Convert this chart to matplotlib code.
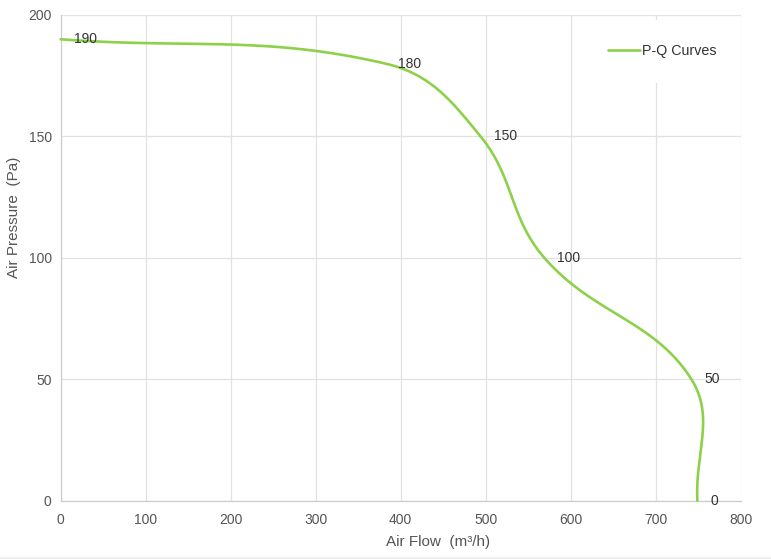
import numpy as np
import matplotlib
matplotlib.use("Agg")
import matplotlib.pyplot as plt
from matplotlib.patches import Rectangle

# ---- data ----
flow = [0, 382, 494, 569, 742, 749]          # Air Flow (m3/h)
pressure = [190, 180, 150, 100, 50, 0]       # Air Pressure (Pa)
point_labels = ["190", "180", "150", "100", "50", "0"]
x_ticks = [0, 100, 200, 300, 400, 500, 600, 700, 800]
y_ticks = [0, 50, 100, 150, 200]
series_name = "P-Q Curves"

LINE_COLOR = "#8dd14b"
GRID_COLOR = "#e2e2e2"
TICK_COLOR = "#555555"
TEXT_COLOR = "#333333"

plt.rcParams['font.family'] = ['Liberation Sans', 'DejaVu Sans']

W, H, DPI = 771, 559, 100
fig = plt.figure(figsize=(W / DPI, H / DPI), dpi=DPI)
fig.patch.set_facecolor("white")

L, R, T, B = 60.7, 740.7, 15.0, 500.7
ax = fig.add_axes([L / W, (H - B) / H, (R - L) / W, (B - T) / H])
ax.set_xlim(0, 800)
ax.set_ylim(0, 200)
ax.set_xticks(x_ticks)
ax.set_yticks(y_ticks)
ax.grid(True, color=GRID_COLOR, linewidth=0.9)
ax.set_axisbelow(True)
for s in ["top", "right"]:
    ax.spines[s].set_visible(False)
for s in ["left", "bottom"]:
    ax.spines[s].set_color("#cccccc")
    ax.spines[s].set_linewidth(0.9)
ax.tick_params(axis="both", length=0, labelsize=10, colors=TICK_COLOR)
ax.tick_params(axis="x", pad=9)
ax.tick_params(axis="y", pad=6.5)

# ---- smooth curve (Chart.js-style spline, tension 0.4) in display space ----
tension = 0.4
pts = ax.transData.transform(np.column_stack([flow, pressure]))
n = len(pts)
cps = []
for i in range(n):
    prev = pts[i - 1] if i > 0 else pts[i]
    cur = pts[i]
    nxt = pts[i + 1] if i < n - 1 else pts[i]
    d01 = np.hypot(*(cur - prev))
    d12 = np.hypot(*(nxt - cur))
    tot = d01 + d12
    s01 = d01 / tot if tot else 0
    s12 = d12 / tot if tot else 0
    cps.append((cur - tension * s01 * (nxt - prev), cur + tension * s12 * (nxt - prev)))
curve = []
tt = np.linspace(0, 1, 120)[:, None]
for i in range(n - 1):
    p0, p1, p2, p3 = pts[i], cps[i][1], cps[i + 1][0], pts[i + 1]
    seg = ((1 - tt) ** 3) * p0 + 3 * ((1 - tt) ** 2) * tt * p1 + 3 * (1 - tt) * tt ** 2 * p2 + tt ** 3 * p3
    curve.append(seg if i == 0 else seg[1:])
curve = ax.transData.inverted().transform(np.vstack(curve))
ax.plot(curve[:, 0], curve[:, 1], color=LINE_COLOR, linewidth=1.9,
        solid_capstyle="round", label=series_name, zorder=3, clip_on=False)

for x, y, lab in zip(flow, pressure, point_labels):
    ax.annotate(lab, (x, y), xytext=(13, 0), textcoords="offset pixels",
                ha="left", va="center", fontsize=10, color=TEXT_COLOR, zorder=4,
                annotation_clip=False)

# ---- legend with white background block ----
ax.add_patch(Rectangle(((600 - L) / (R - L), (B - 83) / (B - T)),
                       (735 - 600) / (R - L), (83 - 20) / (B - T),
                       transform=ax.transAxes, facecolor="white", edgecolor="none", zorder=2))
leg = ax.legend(loc="center left", bbox_to_anchor=((608.3 - L) / (R - L), (B - 51) / (B - T)),
                frameon=False, borderpad=0, borderaxespad=0, handlelength=2.2,
                handletextpad=0.15, fontsize=10.3)
for t in leg.get_texts():
    t.set_color(TEXT_COLOR)
leg.set_zorder(5)

# ---- axis titles ----
ax.set_xlabel("Air Flow  (m³/h)", fontsize=11, color=TICK_COLOR)
ax.xaxis.set_label_coords((438 - L) / (R - L), (B - 541.7) / (B - T))
ax.xaxis.label.set_verticalalignment("center")
ax.set_ylabel("Air Pressure  (Pa)", fontsize=11, color=TICK_COLOR)
ax.yaxis.set_label_coords((14 - L) / (R - L), (B - 217.5) / (B - T))
ax.yaxis.label.set_verticalalignment("center")

# faint page edge at the bottom
fig.patches.append(Rectangle((0, 0), 1, 2.5 / H, transform=fig.transFigure,
                             facecolor="#efefef", edgecolor="none"))

fig.savefig("out.png", dpi=DPI)
